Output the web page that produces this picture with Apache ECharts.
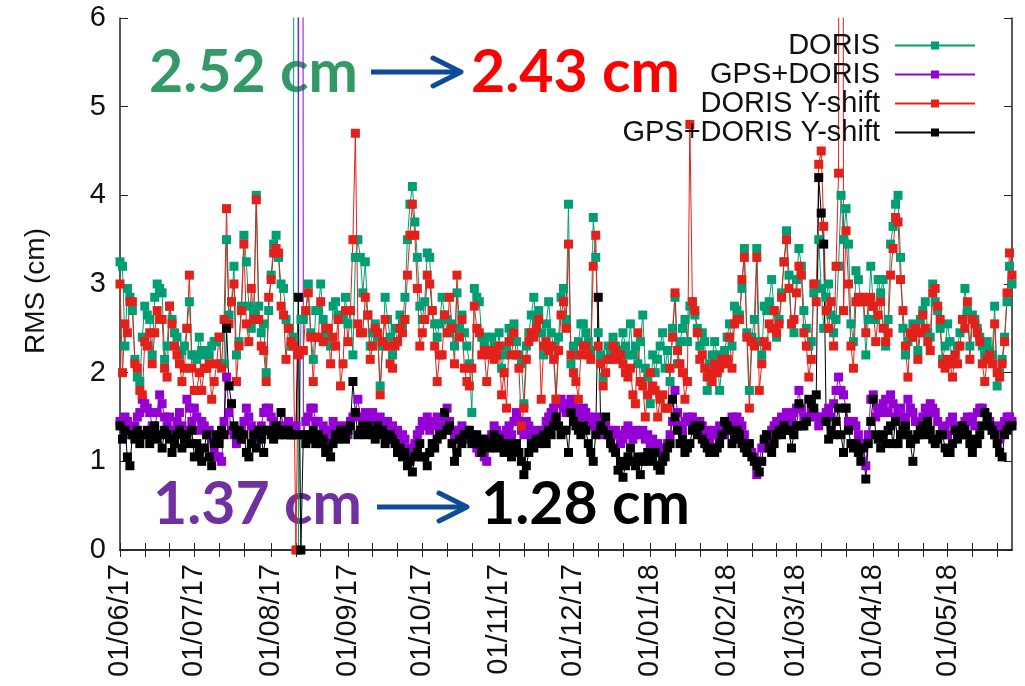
<!DOCTYPE html>
<html>
<head>
<meta charset="utf-8">
<script src="https://cdn.jsdelivr.net/npm/echarts@6/dist/echarts.min.js"></script>
<style>
html,body{margin:0;padding:0;background:#fff;}
#chart{width:1025px;height:686px;}
</style>
</head>
<body>
<div id="chart"></div>
<script>
// ---- data (daily values from 01/06/17) ----
const START_DATE = [2017, 6, 1];
const MONTH_LABELS = ['01/06/17','01/07/17','01/08/17','01/09/17','01/10/17','01/11/17',
  '01/12/17','01/01/18','01/02/18','01/03/18','01/04/18','01/05/18'];
const Y_TICKS = [0, 1, 2, 3, 4, 5, 6];
const SERIES_NAMES = ['DORIS', 'GPS+DORIS', 'DORIS Y-shift', 'GPS+DORIS Y-shift'];

const DORIS = [
3.25,3.2,2.3,2.95,2.85,2.7,2.15,1.95,1.9,2.4,
2.75,2.65,2.6,2.2,2.85,3.0,2.95,2.9,2.15,2.3,
2.75,2.6,2.45,2.4,2.2,2.25,2.3,2.5,2.8,2.2,
2.2,2.15,2.4,2.25,2.2,2.25,2.2,2.3,2.35,2.35,
2.4,2.1,2.1,3.5,2.65,2.8,3.2,2.2,2.35,2.75,
3.55,3.25,2.75,2.5,2.7,4.0,2.75,2.45,2.55,2.0,
2.7,3.1,3.45,3.55,3.3,3.0,2.95,2.6,2.5,2.3,
2.4,40,0,2.6,2.6,2.7,3.0,2.45,2.15,2.7,
2.7,3.0,2.6,2.4,2.5,2.3,2.75,2.8,2.65,2.6,
2.6,2.85,2.55,2.7,2.2,3.3,3.5,3.3,2.9,3.25,
2.65,2.3,2.45,2.55,2.4,1.85,2.3,2.85,2.6,2.4,
2.2,2.5,2.35,2.65,2.55,2.85,3.5,3.9,4.1,3.7,
3.3,2.75,2.6,2.8,3.35,3.3,2.7,2.55,2.4,2.55,
2.85,2.65,2.6,2.45,2.55,2.3,2.9,2.5,2.65,2.45,
2.3,2.1,1.55,2.95,2.85,2.8,2.4,2.35,2.4,2.25,
2.4,2.3,2.2,2.45,2.05,2.2,2.3,2.5,2.4,2.55,
2.35,2.2,2.1,1.65,2.3,2.45,2.65,2.85,2.6,2.7,
2.45,2.2,2.55,2.8,2.45,2.3,1.7,2.4,2.85,2.95,
2.6,3.9,2.1,2.3,2.2,2.35,2.55,2.55,2.45,2.35,
2.25,3.75,3.3,2.45,2.2,1.95,2.15,2.3,2.2,2.4,
2.3,2.2,2.25,2.45,2.3,2.2,2.55,2.2,2.3,2.1,
2.35,2.65,2.05,1.95,1.65,2.2,2.0,2.15,2.3,2.45,
2.05,2.25,1.9,2.5,2.85,2.1,2.35,2.5,2.6,2.35,
2.75,2.8,2.65,2.5,2.3,2.45,2.35,1.8,2.1,2.2,
2.35,2.2,1.8,2.1,2.25,2.4,2.55,2.3,2.75,2.7,
2.65,2.95,3.4,2.45,1.8,2.4,2.6,3.4,2.35,2.2,
2.75,2.7,2.8,3.05,2.7,2.4,2.6,2.9,3.25,3.6,
3.1,2.55,2.45,3.05,3.4,3.2,2.7,2.5,2.3,2.35,
2.9,3.0,3.5,2.95,2.5,2.85,3.0,2.65,2.45,2.6,
3.2,4.0,3.5,3.85,3.45,2.55,2.35,3.15,3.05,2.8,
2.8,2.2,2.6,3.2,2.75,2.6,3.05,2.9,3.05,2.3,
2.6,3.45,3.65,3.9,4.0,3.3,2.5,2.2,2.35,2.4,
2.55,2.5,2.25,2.6,2.7,2.8,2.45,2.4,3.0,2.8,
2.7,2.5,2.15,2.3,2.55,2.35,2.1,2.2,2.3,2.45,
2.6,2.95,2.7,2.3,2.65,2.6,2.5,2.4,2.3,2.2,
2.35,2.25,2.2,2.75,1.85,2.0,2.15,2.4,2.8,3.2,3.0
];

const GPS_DORIS = [
1.45,1.4,1.5,1.45,1.3,1.35,1.4,1.5,1.55,1.7,
1.65,1.6,1.55,1.4,1.35,1.55,1.75,1.65,1.5,1.4,
1.5,1.35,1.3,1.45,1.55,1.4,1.35,1.7,1.6,1.45,
1.6,1.5,1.35,1.45,1.4,1.3,1.35,1.25,1.1,1.05,
1.05,1.0,1.45,1.95,1.55,1.35,1.3,1.2,1.25,1.35,
1.45,1.6,1.5,1.4,1.3,1.35,1.25,1.4,1.55,1.6,
1.6,1.5,1.45,1.3,1.35,1.4,1.3,1.35,1.45,1.3,
1.35,1.4,2.25,40,1.3,1.45,1.5,1.6,1.6,1.45,
1.45,1.3,1.4,1.3,1.25,1.35,1.45,1.3,1.4,1.35,
1.35,1.4,1.3,1.45,1.5,1.55,1.7,1.5,1.4,1.55,
1.5,1.45,1.55,1.4,1.45,1.5,1.35,1.4,1.45,1.3,
1.4,1.3,1.35,1.2,1.3,1.25,1.15,1.05,1.1,1.2,
1.3,1.35,1.45,1.4,1.5,1.35,1.45,1.4,1.5,1.35,
1.4,1.5,1.6,1.45,1.35,1.3,1.25,1.35,1.4,1.3,
1.35,1.25,1.3,1.2,1.15,1.1,1.25,1.05,1.0,1.2,
1.3,1.4,1.35,1.2,1.3,1.25,1.35,1.4,1.3,1.45,
1.55,1.45,1.35,1.3,1.45,1.4,1.3,1.25,1.35,1.3,
1.3,1.35,1.45,1.5,1.55,1.6,1.5,1.65,1.7,1.6,
1.55,1.65,1.7,1.65,1.6,1.55,1.5,1.6,1.55,1.5,
1.45,1.4,1.5,1.45,1.35,1.3,1.4,1.35,1.25,1.3,
1.35,1.3,1.2,1.25,1.35,1.4,1.3,1.25,1.35,1.3,
1.3,1.35,1.25,1.3,1.2,1.25,1.15,1.2,1.1,1.15,
1.15,1.2,1.3,1.45,1.8,1.55,1.4,1.35,1.45,1.5,
1.45,1.5,1.4,1.35,1.45,1.4,1.3,1.35,1.25,1.3,
1.35,1.3,1.4,1.35,1.3,1.4,1.45,1.5,1.45,1.5,
1.45,1.4,1.3,1.2,1.15,1.1,1.05,0.85,1.0,1.15,
1.2,1.3,1.25,1.35,1.4,1.45,1.4,1.5,1.45,1.55,
1.5,1.45,1.55,1.6,1.8,1.6,1.5,1.45,1.5,1.55,
1.55,1.5,1.4,1.45,1.5,1.55,1.6,1.5,1.65,1.8,
1.95,1.8,1.75,1.6,1.45,1.4,1.45,1.4,1.3,1.2,
1.2,0.95,1.3,1.7,1.75,1.5,1.6,1.55,1.65,1.7,
1.55,1.75,1.65,1.5,1.55,1.6,1.45,1.5,1.7,1.6,
1.55,1.45,1.3,1.4,1.5,1.6,1.55,1.65,1.6,1.55,
1.45,1.3,1.35,1.4,1.3,1.45,1.5,1.35,1.4,1.3,
1.35,1.45,1.5,1.45,1.5,1.4,1.55,1.6,1.6,1.55,
1.5,1.45,1.35,1.3,1.4,1.25,1.35,1.45,1.5,1.5,1.45
];

const DORIS_YSHIFT = [
3.0,2.0,2.55,2.45,2.8,2.8,2.1,2.05,1.8,1.75,
2.35,2.3,2.45,2.1,2.45,2.7,2.6,2.6,2.05,1.95,
2.75,2.55,2.3,2.2,2.1,1.9,2.05,2.5,3.1,2.05,
1.8,1.8,2.0,1.8,2.05,2.05,2.1,1.7,1.9,2.1,
2.4,2.05,2.6,3.85,2.55,2.8,3.0,1.9,2.3,2.7,
3.45,2.55,2.35,2.95,2.6,3.95,2.6,2.3,2.25,1.9,
2.85,3.05,3.35,3.4,3.35,2.75,2.65,2.15,2.5,2.35,
2.3,0,2.2,2.25,2.25,2.7,2.9,2.4,1.9,2.4,
2.4,2.8,2.35,2.5,2.5,2.1,2.4,2.3,2.6,1.85,
2.1,2.7,2.35,2.7,3.5,4.7,2.55,2.45,2.45,2.85,
2.65,2.15,2.3,2.5,2.45,1.75,2.35,2.6,2.3,2.1,
2.05,2.3,2.35,2.5,2.45,2.6,3.1,3.55,3.9,3.55,
2.95,2.3,2.45,2.6,3.1,3.0,2.7,2.3,1.9,2.2,
2.2,2.65,2.45,2.85,2.5,2.1,3.1,2.4,2.6,2.05,
1.9,1.85,2.05,2.75,2.5,2.45,2.2,2.25,1.9,2.2,
2.25,2.15,2.2,2.3,1.75,2.0,1.6,2.35,2.2,2.45,
2.2,2.05,1.4,1.6,2.15,2.35,2.45,2.4,2.5,2.6,
1.7,2.3,2.35,2.25,2.3,2.15,1.7,2.25,2.65,2.8,
2.5,3.45,2.2,2.0,1.9,1.7,2.2,2.3,2.3,2.2,
2.15,3.2,3.55,2.3,2.1,1.85,2.0,2.15,2.15,2.3,
2.25,2.15,2.2,2.1,2.0,1.95,2.05,1.75,1.65,2.45,
1.9,1.85,1.5,1.75,2.0,1.85,1.8,1.5,1.7,1.75,
1.6,1.6,2.05,2.4,2.9,2.25,2.1,2.0,1.7,1.9,
4.8,2.8,2.7,2.45,2.15,2.2,2.05,1.95,2.0,1.9,
2.1,2.0,2.05,2.15,2.1,2.15,2.4,2.05,2.55,2.6,
2.6,3.05,3.3,2.4,1.6,2.35,2.3,3.3,1.8,2.1,
2.35,2.3,2.55,2.5,2.7,2.45,2.55,2.85,3.25,3.5,
2.95,2.55,2.6,2.9,3.2,3.1,2.45,2.3,1.95,2.15,
3.0,2.8,4.35,4.5,3.65,2.7,2.5,2.8,2.3,3.2,
4.25,40,2.7,3.6,3.0,2.3,2.05,2.8,2.85,2.8,
2.85,2.45,2.8,2.85,2.75,2.35,2.65,2.8,2.5,2.35,
2.45,3.1,3.4,3.75,3.7,3.05,2.7,2.3,1.95,2.45,
2.4,2.5,2.15,2.45,2.65,2.5,2.35,2.25,2.9,2.95,
2.75,2.6,2.1,2.05,2.15,2.1,1.95,2.2,2.1,2.3,
2.6,2.5,2.8,2.15,2.6,2.55,2.45,2.35,2.1,1.9,
2.15,2.2,2.1,2.55,2.0,1.95,2.1,2.35,2.9,3.35,3.1
];

const GPS_DORIS_YSHIFT = [
1.4,1.25,1.35,1.05,0.95,1.3,1.25,1.35,1.2,1.3,
1.3,1.35,1.2,1.3,1.4,1.25,1.3,1.15,1.35,1.3,
1.25,1.1,1.2,1.3,1.35,1.15,1.25,1.3,1.2,1.35,
1.05,1.2,1.1,1.0,1.15,1.3,1.05,0.95,1.2,1.3,
1.2,1.35,1.3,2.5,1.85,1.65,1.4,1.3,1.35,1.25,
1.3,1.1,1.05,1.2,1.3,1.15,1.35,1.25,1.1,1.35,
1.35,1.3,1.25,1.4,1.3,1.55,1.35,1.3,1.35,1.3,
1.3,1.3,2.85,0,1.3,1.2,1.3,1.25,1.35,1.2,
1.3,1.2,1.25,1.1,1.15,1.05,1.2,1.3,1.25,1.35,
1.3,1.25,1.35,1.4,1.9,1.55,1.3,1.35,1.4,1.3,
1.4,1.35,1.3,1.25,1.4,1.3,1.35,1.2,1.25,1.3,
1.25,1.2,1.1,1.15,1.05,1.1,0.95,1.0,0.88,1.05,
1.1,1.2,1.05,1.05,0.95,1.1,1.2,1.15,1.25,1.3,
1.3,1.55,1.35,1.4,1.2,1.0,1.1,1.25,1.2,1.3,
1.3,1.35,1.2,1.25,1.3,1.2,1.1,1.25,1.2,1.15,
1.2,1.3,1.15,1.25,1.2,1.1,1.15,1.2,1.05,1.1,
1.2,1.1,1.0,0.85,0.95,1.1,1.2,1.15,1.25,1.2,
1.25,1.3,1.2,1.35,1.3,1.4,1.5,1.4,1.3,1.35,
1.35,1.1,1.55,1.45,1.4,1.35,1.3,1.4,1.35,1.2,
1.1,1.0,1.3,2.85,1.4,1.35,1.5,1.3,1.2,1.15,
1.1,0.9,1.0,0.82,0.95,1.05,1.15,1.0,0.95,1.05,
0.85,1.0,1.05,1.1,1.0,1.05,1.1,0.95,0.9,1.0,
1.05,1.15,1.2,1.7,1.5,1.35,1.2,1.25,1.1,1.15,
1.2,1.35,1.4,1.3,1.4,1.25,1.2,1.15,1.1,1.15,
1.1,1.15,1.2,1.3,1.45,1.4,1.35,1.2,1.25,1.35,
1.3,1.2,1.15,1.1,1.2,1.05,1.0,0.95,0.88,1.0,
1.25,1.3,1.15,1.1,1.2,1.3,1.35,1.3,1.4,1.35,
1.35,1.15,1.3,1.4,1.65,1.4,1.4,1.45,1.7,1.65,
1.6,1.75,4.2,3.8,3.45,1.45,1.25,1.35,1.3,1.45,
1.6,1.3,1.1,1.6,1.35,1.2,1.15,1.2,1.1,1.0,
1.15,0.8,1.2,1.45,1.7,1.3,1.25,1.15,1.3,1.2,
1.35,1.4,1.2,1.45,1.2,1.3,1.35,1.4,1.3,1.2,
1.0,1.25,1.3,1.35,1.4,1.3,1.45,1.35,1.25,1.2,
1.25,1.3,1.3,1.15,1.1,1.1,1.2,1.35,1.25,1.3,
1.4,1.35,1.3,1.2,1.1,1.25,1.2,1.3,1.4,1.55,
1.5,1.4,1.35,1.3,1.2,1.1,1.05,1.3,1.35,1.4,1.4
];

// categories: one per day
function pad(n){ return (n < 10 ? '0' : '') + n; }
const CATEGORIES = [];
for (let i = 0; i < DORIS.length; i++) {
  const d = new Date(Date.UTC(START_DATE[0], START_DATE[1] - 1, START_DATE[2] + i));
  CATEGORIES.push(pad(d.getUTCDate()) + '/' + pad(d.getUTCMonth() + 1) + '/' + String(d.getUTCFullYear()).slice(2));
}

const COLORS = ['#009e73', '#9400d3', '#e3201a', '#000000'];
const VALUES = [DORIS, GPS_DORIS, DORIS_YSHIFT, GPS_DORIS_YSHIFT];
const FONT = "'Liberation Sans', Arial, Helvetica, sans-serif";

const chart = echarts.init(document.getElementById('chart'), null, {renderer: 'canvas'});

const tickDay = (idx, val) => /^(01|11|21)\//.test(val);
const labelDay = (idx, val) => MONTH_LABELS.indexOf(val) >= 0;

const axisLineStyle = {show: true, lineStyle: {color: '#222', width: 1.5}};

const option = {
  animation: false,
  backgroundColor: '#fff',
  grid: {left: 120, right: 13, top: 18, bottom: 136, containLabel: false},
  xAxis: [{
    type: 'category', data: CATEGORIES, boundaryGap: false, position: 'bottom',
    axisLine: axisLineStyle,
    axisTick: {show: true, inside: true, length: 7, interval: tickDay, lineStyle: {color: '#222', width: 1}},
    axisLabel: {show: true, interval: labelDay, rotate: 90, margin: 14, fontSize: 29, color: '#111', fontFamily: FONT},
    splitLine: {show: false}
  }, {
    type: 'category', data: CATEGORIES, boundaryGap: false, position: 'top',
    axisLine: axisLineStyle,
    axisTick: {show: true, inside: true, length: 7, interval: tickDay, lineStyle: {color: '#222', width: 1}},
    axisLabel: {show: false},
    splitLine: {show: false}
  }],
  yAxis: [{
    type: 'value', min: Y_TICKS[0], max: Y_TICKS[Y_TICKS.length - 1], interval: 1, position: 'left',
    name: 'RMS (cm)', nameLocation: 'middle', nameGap: 70, nameRotate: 90,
    nameTextStyle: {fontSize: 28, color: '#111', fontFamily: FONT, padding: [0, 0, 0, -14]},
    axisLine: axisLineStyle,
    axisTick: {show: true, inside: true, length: 8, lineStyle: {color: '#222', width: 1}},
    axisLabel: {fontSize: 29, color: '#111', margin: 14, fontFamily: FONT},
    splitLine: {show: false}
  }, {
    type: 'value', min: Y_TICKS[0], max: Y_TICKS[Y_TICKS.length - 1], interval: 1, position: 'right',
    axisLine: axisLineStyle,
    axisTick: {show: true, inside: true, length: 8, lineStyle: {color: '#222', width: 1}},
    axisLabel: {show: false},
    splitLine: {show: false}
  }],
  legend: {
    orient: 'vertical', right: 44, top: 26, align: 'right',
    itemWidth: 80, itemHeight: 10, itemGap: 0,
    data: SERIES_NAMES,
    textStyle: {fontSize: 29, lineHeight: 28, color: '#111', fontFamily: FONT, padding: [0, 10, 0, 0]}
  },
  series: SERIES_NAMES.map((name, i) => ({
    name: name, type: 'line', data: VALUES[i],
    xAxisIndex: 0, yAxisIndex: 0,
    symbol: 'rect', symbolSize: 9, showSymbol: true, showAllSymbol: true,
    clip: true,
    lineStyle: {width: 1, color: COLORS[i]},
    itemStyle: {color: COLORS[i]},
    emphasis: {disabled: true}
  })),
  graphic: [
    {type: 'text', x: 149, y: 73, style: {text: '2.52 cm', fill: '#339966', font: "bold 59px Lato, 'Open Sans', sans-serif", verticalAlign: 'middle', align: 'left'}},
    {type: 'text', x: 471, y: 73, style: {text: '2.43 cm', fill: '#ff0000', font: "bold 59px Lato, 'Open Sans', sans-serif", verticalAlign: 'middle', align: 'left'}},
    {type: 'text', x: 153, y: 505, style: {text: '1.37 cm', fill: '#7030a0', font: "bold 59px Lato, 'Open Sans', sans-serif", verticalAlign: 'middle', align: 'left'}},
    {type: 'text', x: 481, y: 505, style: {text: '1.28 cm', fill: '#000000', font: "bold 59px Lato, 'Open Sans', sans-serif", verticalAlign: 'middle', align: 'left'}},
    {type: 'line', shape: {x1: 371, y1: 72, x2: 458, y2: 72}, style: {stroke: '#0f4c97', lineWidth: 5}},
    {type: 'polyline', shape: {points: [[433, 58], [461, 72], [433, 86]]}, style: {stroke: '#0f4c97', lineWidth: 5, fill: null, lineJoin: 'round', lineCap: 'round'}},
    {type: 'line', shape: {x1: 377, y1: 507, x2: 464, y2: 507}, style: {stroke: '#0f4c97', lineWidth: 5}},
    {type: 'polyline', shape: {points: [[439, 493], [467, 507], [439, 521]]}, style: {stroke: '#0f4c97', lineWidth: 5, fill: null, lineJoin: 'round', lineCap: 'round'}}
  ]
};
chart.setOption(option);
</script>
</body>
</html>
